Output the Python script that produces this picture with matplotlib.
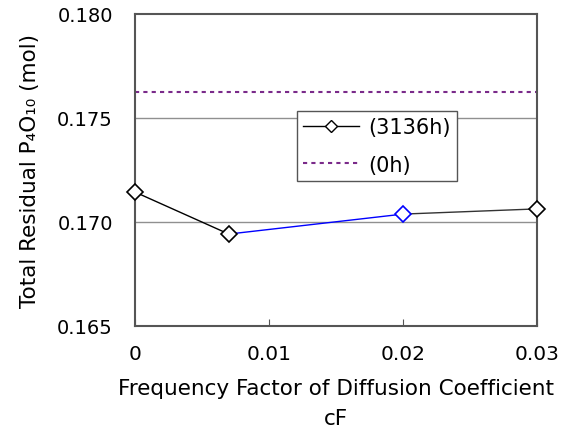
import numpy as np
import matplotlib.pyplot as plt

# data
cf = [0, 0.007, 0.02, 0.03]
residual_3136h = [0.17144, 0.16942, 0.17038, 0.17063]
residual_0h = 0.17625
seg_colors = ['black', 'blue', '#333333']
marker_colors = ['black', 'black', 'blue', 'black']
x_ticks = [0, 0.01, 0.02, 0.03]
x_ticklabels = ['0', '0.01', '0.02', '0.03']
y_ticks = [0.165, 0.170, 0.175, 0.180]
y_ticklabels = ['0.165', '0.170', '0.175', '0.180']


def main():
    plt.rcParams['font.family'] = ['DejaVu Sans']
    fig = plt.figure(figsize=(5.70, 4.31), dpi=100)
    ax = fig.add_axes([0.2368, 0.2413, 0.7053, 0.7239])

    # gridlines (horizontal only)
    for yv in y_ticks[1:-1]:
        ax.axhline(yv, color='#909090', lw=1.0, zorder=1)

    # 0h reference line
    ax.axhline(residual_0h, color='#7a2a8a', lw=1.5, ls=(0, (2, 2)), zorder=2)

    # 3136h series, segment colours as in the reference
    for i in range(len(cf) - 1):
        ax.plot(cf[i:i + 2], residual_3136h[i:i + 2], color=seg_colors[i], lw=1.0, zorder=3,
                clip_on=False)
    for x, y, c in zip(cf, residual_3136h, marker_colors):
        ax.plot(x, y, marker='D', ms=8.5, mfc='white', mec=c, mew=1.2, ls='none', zorder=4,
                clip_on=False)

    # legend proxies
    ax.plot([], [], color='black', lw=1.0, marker='D', ms=6.5, mfc='white', mec='black',
            label='(3136h)')
    ax.plot([], [], color='#7a2a8a', lw=1.5, ls=(0, (2, 2)), label='(0h)')
    leg = ax.legend(loc='lower left', bbox_to_anchor=(0.403, 0.465), fontsize=15,
                    frameon=True, fancybox=False, edgecolor='#555555', handlelength=2.7,
                    borderpad=0.3, labelspacing=0.85, handletextpad=0.4, borderaxespad=0,
                    framealpha=1)
    leg.get_frame().set_linewidth(1.0)
    leg.set_zorder(5)

    ax.set_xlim(0, 0.03)
    ax.set_ylim(0.165, 0.180)
    ax.set_xticks(x_ticks)
    ax.set_xticklabels(x_ticklabels, fontsize=14.5)
    ax.set_yticks(y_ticks)
    ax.set_yticklabels(y_ticklabels, fontsize=14)
    ax.tick_params(axis='x', direction='in', length=5, pad=13, color='#555555')
    ax.tick_params(axis='y', length=0, pad=16)
    for s in ax.spines.values():
        s.set_color('#555555')
        s.set_linewidth(1.5)

    ax.set_xlabel('Frequency Factor of Diffusion Coefficient\ncF', fontsize=15.5,
                  linespacing=1.6, labelpad=11)
    ax.set_ylabel('Total Residual P\u2084O\u2081\u2080 (mol)', fontsize=15.5, labelpad=12)

    fig.savefig('out.png', dpi=100)


if __name__ == "__main__":
    main()
